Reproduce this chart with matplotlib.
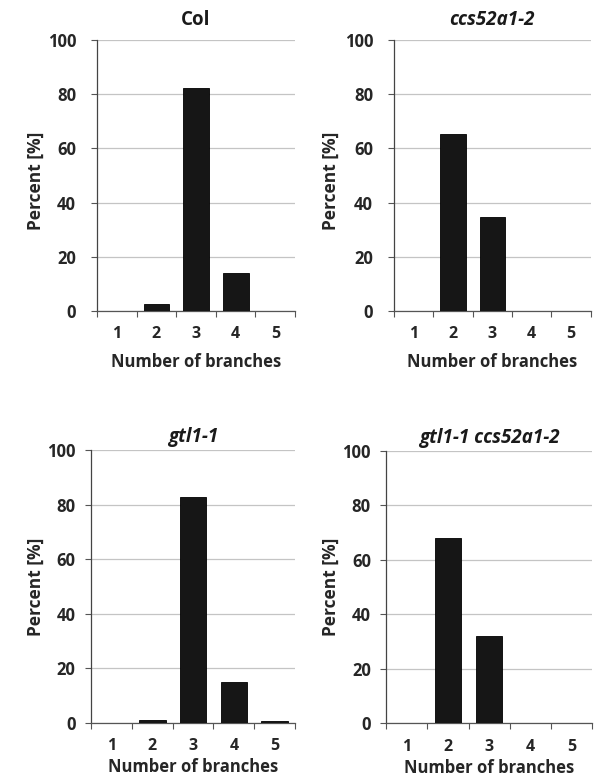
import matplotlib
matplotlib.use("Agg")
import matplotlib.pyplot as plt
import numpy as np

plt.rcParams['font.family'] = ['Open Sans', 'DejaVu Sans']

categories = [1, 2, 3, 4, 5]
col_vals = [0, 2.5, 82.5, 14, 0]
ccs_vals = [0, 65.3, 34.7, 0, 0]
gtl_vals = [0, 1, 83, 15, 0.5]
double_vals = [0, 68, 32, 0, 0]
titles = ["Col", "ccs52a1-2", "gtl1-1", "gtl1-1 ccs52a1-2"]
title_styles = ["normal", "italic", "italic", "italic"]
yticks = [0, 20, 40, 60, 80, 100]

fig = plt.figure(figsize=(5.95, 7.83), dpi=100)
positions = [
    [0.163, 0.6028, 0.333, 0.346],
    [0.662, 0.6028, 0.331, 0.346],
    [0.153, 0.077, 0.343, 0.348],
    [0.649, 0.0762, 0.346, 0.348],
]
data = [col_vals, ccs_vals, gtl_vals, double_vals]
ypads = [11, 11, 7, 7]
title_pads = [11, 11, 6, 6]
xlabel_pads = [8, 8, 3, 3]
ylabel_x = [36, 331, 36, 331]
ylabel_frac = [0.48, 0.48, 0.50, 0.50]

for i, (pos, vals, title, style) in enumerate(zip(positions, data, titles, title_styles)):
    ax = fig.add_axes(pos)
    ax.bar(categories, vals, width=0.65, color='#161616', edgecolor='#000000', linewidth=0.6, zorder=3)
    ax.set_xlim(0.5, 5.5)
    ax.set_ylim(0, 100)
    ax.set_yticks(yticks)
    ax.set_yticklabels([str(t) for t in yticks], fontsize=12, fontweight='bold', color='#262626')
    ax.set_xticks(categories)
    ax.set_xticklabels([str(c) for c in categories], fontsize=11.5, fontweight='bold', color='#262626')
    ax.tick_params(axis='x', which='major', length=0, pad=11)
    ax.set_xticks(np.arange(0.5, 6.0, 1.0), minor=True)
    ax.tick_params(axis='x', which='minor', length=4, color='#555555', width=0.8)
    ax.tick_params(axis='y', length=4, color='#555555', width=0.8, pad=ypads[i])
    ax.yaxis.grid(True, color='#c4c4c4', linewidth=0.9, zorder=0)
    ax.set_axisbelow(True)
    for s in ['top', 'right']:
        ax.spines[s].set_visible(False)
    ax.spines['left'].set_color('#444444')
    ax.spines['bottom'].set_color('#555555')
    ax.spines['left'].set_linewidth(0.9)
    ax.spines['bottom'].set_linewidth(0.9)
    ax.set_xlabel("Number of branches", fontsize=12, fontweight='bold', color='#262626', labelpad=xlabel_pads[i])
    ax.set_title(title, fontsize=13.5, fontweight='bold', fontstyle=style, color='#1a1a1a', pad=title_pads[i])
    yc = pos[1] + pos[3] * ylabel_frac[i]
    fig.text(ylabel_x[i] / 595.0, yc, "Percent [%]", rotation=90, fontsize=12.5,
             fontweight='bold', color='#262626', ha='center', va='center')

fig.savefig("out.png", dpi=100, facecolor='white')
